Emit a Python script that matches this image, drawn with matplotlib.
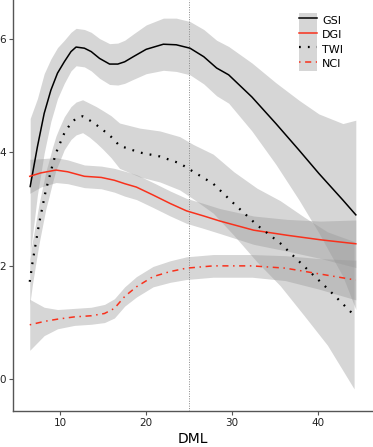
import matplotlib
matplotlib.use("Agg")
import matplotlib.pyplot as plt
from matplotlib.patches import Patch
from matplotlib.lines import Line2D
from matplotlib.legend_handler import HandlerTuple
import numpy as np

# ---- data ----
gsi_x = [6.5, 7.34, 8.13, 8.91, 9.68, 10.47, 11.25, 11.84, 12.81, 13.6, 14.57, 15.74,
         16.7, 17.5, 18.5, 20.0, 22.0, 23.5, 25.1, 26.7, 28.2, 29.6, 32.3, 35.1,
         37.8, 40.1, 42.9, 44.4]
gsi_y = [3.40, 4.10, 4.69, 5.10, 5.40, 5.60, 5.78, 5.86, 5.84, 5.78, 5.66, 5.56,
         5.56, 5.60, 5.69, 5.82, 5.91, 5.90, 5.84, 5.69, 5.49, 5.37, 4.98, 4.51,
         4.04, 3.63, 3.16, 2.90]
gsi_se = [1.2, 0.85, 0.70, 0.55, 0.45, 0.38, 0.34, 0.33, 0.33, 0.34, 0.35, 0.36,
          0.37, 0.38, 0.40, 0.43, 0.46, 0.47, 0.47, 0.48, 0.49, 0.50, 0.60, 0.72,
          0.88, 1.05, 1.35, 1.67]

dgi_x = [6.45, 7.74, 9.5, 10.86, 12.81, 14.77, 16.3, 17.5, 18.86, 20.8, 22.8, 24.7,
         26.7, 28.6, 32.5, 36.4, 40.3, 44.4]
dgi_y = [3.58, 3.64, 3.69, 3.66, 3.58, 3.56, 3.51, 3.45, 3.39, 3.25, 3.10, 2.97,
         2.88, 2.79, 2.63, 2.54, 2.46, 2.39]
dgi_se = [0.30, 0.25, 0.22, 0.21, 0.20, 0.20, 0.21, 0.22, 0.22, 0.22, 0.22, 0.22,
          0.22, 0.22, 0.25, 0.28, 0.33, 0.42]

twi_x = [6.45, 6.76, 7.15, 7.54, 7.93, 8.33, 8.71, 9.1, 9.5, 9.88, 10.47, 11.25,
         11.84, 12.6, 13.4, 14.18, 14.95, 15.9, 16.9, 19.25, 21.6, 23.9, 25.5,
         27.8, 30.2, 32.9, 35.6, 38.4, 41.1, 44.2]
twi_y = [1.72, 2.05, 2.40, 2.75, 3.04, 3.34, 3.55, 3.78, 3.99, 4.13, 4.34, 4.52,
         4.60, 4.64, 4.57, 4.49, 4.40, 4.28, 4.12, 4.00, 3.93, 3.81, 3.66,
         3.45, 3.10, 2.72, 2.40, 1.99, 1.60, 1.13]
twi_se = [0.40, 0.38, 0.36, 0.35, 0.34, 0.33, 0.32, 0.31, 0.30, 0.30, 0.29, 0.29,
          0.29, 0.29, 0.30, 0.32, 0.34, 0.37, 0.40, 0.43, 0.45, 0.47, 0.48,
          0.52, 0.56, 0.65, 0.75, 0.87, 1.0, 1.3]

nci_x = [6.45, 8.13, 9.68, 11.64, 13.6, 15.15, 16.3, 17.5, 18.86, 20.8, 22.8, 24.7,
         27.8, 32.3, 36.2, 40.1, 44.4]
nci_y = [0.96, 1.02, 1.06, 1.10, 1.12, 1.16, 1.25, 1.46, 1.63, 1.81, 1.90, 1.96,
         2.00, 2.00, 1.96, 1.86, 1.75]
nci_se = [0.45, 0.25, 0.17, 0.15, 0.15, 0.16, 0.17, 0.17, 0.18, 0.18, 0.19, 0.20,
          0.20, 0.20, 0.22, 0.27, 0.35]

labels = ["GSI", "DGI", "TWI", "NCI"]
x_ticks = [10, 20, 30, 40]
y_ticks = [0, 2, 4, 6]
vline_x = 25

RED = "#f8311c"
BAND = "#999999"

fig = plt.figure(figsize=(3.73, 4.47), dpi=100)
ax = fig.add_axes([13 / 373, 36 / 447, 360 / 373, 411 / 447])

series = [
    (gsi_x, gsi_y, gsi_se, "black", "-", 1.1),
    (dgi_x, dgi_y, dgi_se, RED, "-", 1.1),
    (twi_x, twi_y, twi_se, "black", (0, (0.8, 3.2)), 1.6),
    (nci_x, nci_y, nci_se, RED, (0, (1, 3, 4, 3)), 1.1),
]

for x, y, se, c, ls, lw in series:
    x = np.asarray(x); y = np.asarray(y); se = np.asarray(se)
    ax.fill_between(x, y - se, y + se, color=BAND, alpha=0.4, lw=0, zorder=1)

ax.axvline(vline_x, color="#888888", lw=0.7, ls=(0, (1, 1.5)), zorder=2)

handles = []
for x, y, se, c, ls, lw in series:
    ax.plot(x, y, color=c, ls=ls, lw=lw, zorder=3, solid_joinstyle="round")
    handles.append((Patch(facecolor="#d6d6d6", edgecolor="none"),
                    Line2D([], [], color=c, ls=ls, lw=lw)))

ax.set_xlim(4.5, 46.4)
ax.set_ylim(-0.56, 6.69)
ax.set_xticks(x_ticks)
ax.set_yticks(y_ticks)
for s in ["top", "right"]:
    ax.spines[s].set_visible(False)
for s in ["left", "bottom"]:
    ax.spines[s].set_color("#555555")
    ax.spines[s].set_linewidth(1.0)
ax.tick_params(axis="both", length=3, width=0.8, color="#555555",
               labelsize=7.5, labelcolor="#222222", pad=2)
ax.set_xlabel("DML", fontsize=10, labelpad=3)

fig.legend(handles, labels,
           handler_map={tuple: HandlerTuple(ndivide=1)},
           loc="upper left", bbox_to_anchor=(293 / 373, 1 - 7 / 447),
           frameon=False, borderpad=0, labelspacing=0,
           handlelength=1.7, handleheight=1.65, handletextpad=0.4,
           fontsize=8)

fig.savefig("out.png", dpi=100)
